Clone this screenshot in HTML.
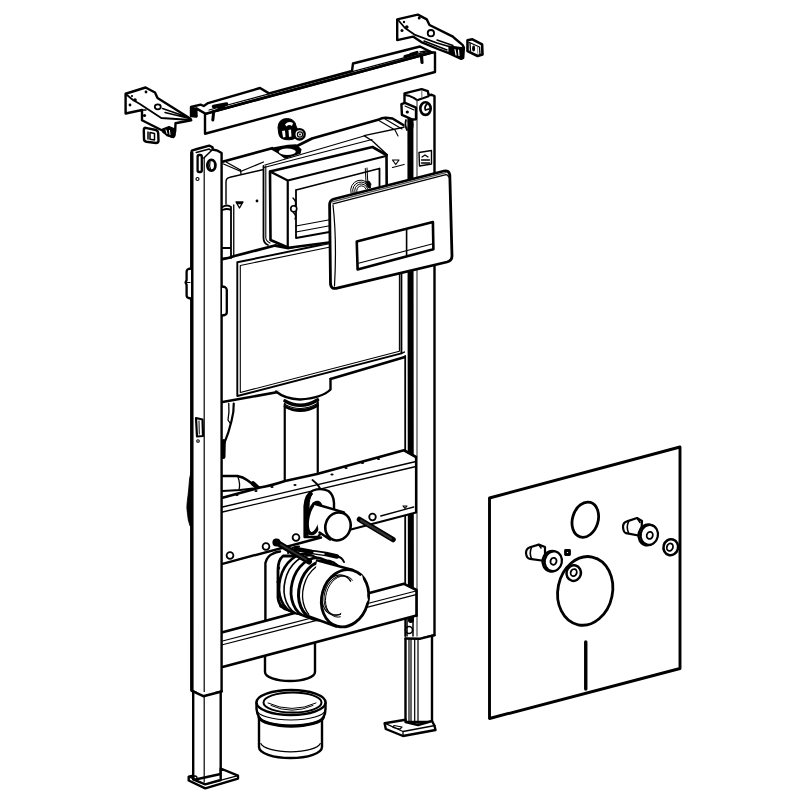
<!DOCTYPE html>
<html><head><meta charset="utf-8"><title>Installation frame</title>
<style>
html,body{margin:0;padding:0;background:#fff;width:800px;height:800px;overflow:hidden;font-family:"Liberation Sans",sans-serif;}
svg{display:block}
</style></head><body>
<svg width="800" height="800" viewBox="0 0 800 800">
<g fill="none" stroke="#000" stroke-linejoin="round" stroke-linecap="round">

<!-- ===== Cistern body ===== -->
<g id="cistern" stroke-width="2.2">
 <path fill="#fff" stroke="none" d="M222.5,160 L272,148 L312,139 L379,119.5 Q382,117.5 386,117.75 L392.5,118.5 L405,126 L405,356 L222.5,402 Z"/>
 <!-- top back edge -->
 <path stroke-width="2.6" d="M222.5,161.8 L272,148.2 M297,146 L312,138.5 L379,119.5 Q382,117.5 386,117.75 L392.5,118.5 L405,126"/>
 <!-- collar -->
 <path fill="#000" stroke-width="1.5" d="M271,148.5 L277,152 L285,158 L300,153 L300.75,149.5 L296,145 L288,145.5 Z"/>
 <ellipse cx="287.25" cy="151.75" rx="8.5" ry="3.2" fill="#fff" stroke="none"/>
 <!-- frame top front edge -->
 <path stroke-width="1.3" d="M223.5,164 L241,171.5 M226.5,162.3 L240.5,170 M240.5,171.5 L263.5,162 M240.5,170 L241,174"/>
 <path stroke-width="1.2" d="M265,165 L364,136 M264,167.5 L372,139.5"/>
 <path stroke-width="1.3" d="M364,135.6 L405,127 M364,135.6 L372.5,141 L387.5,155"/>
 <path stroke-width="1.1" d="M378,120 L395,130 L398,136 M385,119 L402,129"/>
 <!-- left compartment -->
 <path stroke-width="1.4" d="M226,204 L226,182 Q226,178 230,177.3 L262.6,169.8"/>
 <path stroke-width="1.8" d="M263.5,166 L263.5,238 Q263.5,243 268,245"/>
 <path stroke-width="1.1" d="M265.8,166 L265.8,238 Q266,241 270,243"/>
 <!-- overflow tube -->
 <path stroke-width="1.8" d="M222.5,207 Q227,204 231,207 L231,258 M222.5,210 Q227,208 231,210 M222.5,248 L231,248"/>
 <path stroke-width="1.3" d="M233.75,205 L233.75,256"/>
 <path stroke-width="1.3" d="M236,202 L243,202 L239.5,208 Z M237,203.5 L242,203.5"/>
 <circle cx="257" cy="201" r="1.4" fill="#000" stroke="none"/>
 <!-- shoulder thick line -->
 <path stroke-width="2.8" d="M222.5,259 Q228,258.5 234.5,256 L275,245.5 L288.5,248 L405,224"/>
 <!-- right section -->
 <path stroke-width="1.2" d="M392.5,160 L399,160 L395.75,164.5 Z M392.5,167.5 L406,164"/>
 <!-- front panel -->
 <path stroke-width="1.9" d="M237.3,262.3 L340,241 M237.3,262.3 L237.3,396 L401.4,353.4 L401.4,266"/>
 <path stroke-width="1.1" d="M240.3,265.5 L240.3,392.5 L399.4,351.3 L399.4,268 M240.3,265.5 L340,245"/>
 <!-- cistern bottom -->
 <path stroke-width="2.6" d="M222.5,402 L279.5,391.75 M330.5,379 L405,357"/>
 <path stroke-width="1.6" d="M401.4,353.4 Q404,352 408,351"/>
</g>

<!-- ===== Right post ===== -->
<g id="rpost" stroke-width="2.4">
 <path fill="#fff" d="M404.5,104 L404.5,93.4 L421.6,89.2 L427.8,91.2 L428.6,95.1 L431.7,94.8 L434.5,96 L434.5,635.2 L420.5,638.7 L405.5,638 Z" stroke="none"/>
 <path d="M404.5,104 L404.5,93.4 L421.6,89.2 L427.8,91.2 L428.6,95.1 L431.7,94.8 L434.5,96 L434.5,635.2 L420.5,638.7"/>
 <path stroke-width="2" d="M405,95 L408.7,95.7 L413.7,97.9 L417.1,100.2 L428.6,96.2"/>
 <path stroke="#777" stroke-width="1.2" d="M421.8,91 L421.8,97.5"/>
 <path stroke-width="6" d="M410.4,119 L410.9,620"/>
 <path stroke-width="1.8" d="M405.2,356 L405.2,636"/>
 <path stroke="#444" stroke-width="1.2" d="M417,100 L417,636"/>
 <ellipse cx="425.5" cy="108.6" rx="5.2" ry="6.3" stroke-width="2.6"/>
 <path stroke-width="1.8" d="M427,104 Q424,107 425.5,110 L429,109"/>
 <path fill="#fff" stroke-width="2.4" d="M401.4,104.1 L405,102.8 L416,107.6 L416,119.3 L412.5,119.5 L401.9,114.8 Z"/>
 <path stroke-width="1.2" d="M405,106 L414,110"/>
 <circle cx="407.3" cy="112" r="1.6" fill="#000" stroke="none"/>
 <path stroke-width="1.8" d="M406,120 Q404.5,125 407,130 M411.5,120 Q414,125 411.5,130 M408.5,121 Q410,124 408.5,128"/>
 <path stroke-width="1.4" d="M419,152.5 L431.5,150.5 L431.5,164 L419.5,166 Z"/>
 <path stroke-width="1.3" d="M421.5,160 L429.5,160 M422,157 L425,155 L428,157 M421.5,163 L429.5,163"/>
 <!-- clip near crossbar -->
 <circle cx="409" cy="630" r="3.5" stroke-width="1.6" fill="#fff"/>
 <path stroke-width="1.5" d="M407,618 L407,636 M413,618 L413,636"/>
 <!-- lower leg -->
 <path fill="#fff" d="M405.5,638.7 L405.5,722 L432,722 L432,636"/>
 <path stroke-width="1.2" d="M409,639 L409,722 M411,639 L411,722 M414.7,639 L414.7,724 M418,639 L418,725"/>
 <path stroke-width="2.4" d="M405.5,638.5 L420.5,638.7 L434.5,635.2"/>
 <path fill="#fff" d="M384.6,723.2 L405.5,719.7 L405.5,722 L418,725 L432,721 L434.4,725.5 L435.5,730 L403,736 L385.8,729 Z"/>
 <path stroke-width="1.3" d="M384.6,723.2 L403,731.5 L435,725.5 M403,731.5 L403,736"/>
 <path stroke-width="1.2" d="M394,725.5 L402,727 L400,729 L393,727.5 Z"/>
</g>

<!-- ===== Vertical pipe ===== -->
<g id="pipe" stroke-width="2.2">
 <path fill="#fff" stroke="none" d="M276,391 L284.75,400 L284.75,480 L317.75,476 L317.75,400 L330.5,389 L330.5,379 Z"/>
 <path stroke-width="2.4" d="M276,391.5 Q285,399 300,399.5 Q322,398 330.5,389.5 L330.5,379"/>
 <path stroke-width="2.2" d="M284.75,404 L284.75,480.5 M317.75,402 L317.75,474.5"/>
 <path stroke-width="3.6" d="M285,401 Q301,410 317.5,400"/>
 <path stroke-width="1.2" d="M285,404.5 Q301,413 317.5,403.5"/>
 <path stroke-width="2.8" d="M285,406.5 Q301,415 317.5,405.5"/>
</g>

<!-- cables on left -->
<g id="cables" stroke-width="2.2">
 <path d="M233.75,403.5 Q234,412 231.5,421 Q229,432 224,444 L222.5,450"/>
 <path stroke-width="1.3" d="M228.75,403.5 Q229.5,412 228,420 L230,423"/>
 <path stroke-width="4" d="M223.8,441 L223.5,457"/>
 <path stroke-width="2.4" d="M222.5,476 L237.5,476 Q243,477 247,480 L256,486.5"/>
 <path stroke-width="2.2" d="M222.5,491 L240,490 L253,488.5"/>
 <path stroke-width="1.3" d="M238,477 Q240.5,484 239,490"/>
 <path stroke-width="4.5" d="M253,483.5 L259,489"/>
</g>

<!-- ===== Middle crossbar ===== -->
<g id="midbar" stroke-width="2.2">
 <path fill="#fff" stroke="none" d="M222.5,497.75 L404,450.25 L416,457 L416,512.5 L222.5,563.8 Z"/>
 <path stroke-width="2.6" d="M222.5,497.75 L260,487.5 Q270,486 285,481 L317,474 L404,450.25 L416,457"/>
 <path stroke-width="1.3" d="M222.5,507 L416,461.5 M222.5,512 L416,466.5"/>
 <path stroke-width="2.2" d="M416,457 L416,512.5 L349,530"/>
 <path stroke-width="1.3" d="M380.75,516 L413.75,507"/>
 <path stroke-width="1.2" d="M403,506 L407,506 L405,508.5 Z"/>
 <g fill="#000" stroke="none">
  <ellipse cx="237" cy="495" rx="1.6" ry="1"/><ellipse cx="256" cy="491" rx="1.6" ry="1"/>
  <ellipse cx="272" cy="487" rx="1.6" ry="1"/><ellipse cx="295" cy="485" rx="1.6" ry="1"/>
  <ellipse cx="332" cy="474.5" rx="1.6" ry="1"/><ellipse cx="346" cy="468" rx="1.6" ry="1"/>
  <ellipse cx="362.5" cy="463" rx="1.6" ry="1"/><ellipse cx="378.5" cy="459" rx="1.6" ry="1"/>
 </g>
 <path stroke-width="2.4" d="M222.5,563.8 L321,537.5"/>
 <circle cx="230" cy="555.5" r="3.4" stroke-width="1.8" fill="#fff"/>
 <circle cx="266" cy="546.5" r="3.4" stroke-width="1.8" fill="#fff"/>
 <circle cx="296" cy="537.5" r="3.4" stroke-width="1.8" fill="#fff"/>
</g>

<!-- ===== Inlet pipe ===== -->
<g id="inlet" stroke-width="2.2">
 <path stroke-width="2" d="M312.5,480 Q318,484 320.4,489"/>
 <path fill="#fff" stroke-width="2.4" d="M304.6,537 L304.6,506 Q305.5,494 313,490.5 Q321,487.5 328.5,491 Q333.5,494.5 334,503 L334,515 L318,537 Z"/>
 <path fill="#000" stroke-width="1" d="M304.6,537 L304.6,506 Q305.5,495 311,491.5 L312.5,494 Q309,498 309,507 L309.5,534 Z"/>
 <ellipse cx="314.5" cy="518" rx="6.5" ry="16" fill="#fff" stroke-width="3.2" transform="rotate(12 314.5 518)"/>
 <path fill="#fff" stroke="none" d="M314,504 L344,512.4 L330,539.5 L319,533 Z"/>
 <path stroke-width="2.4" d="M313.5,503.5 L344,512.4 M319.5,532.5 L330,539.5"/>
 <ellipse cx="338" cy="526.4" rx="12.5" ry="14.2" fill="#fff" stroke-width="2.6" transform="rotate(20 338 526.4)"/>
</g>

<!-- upper rod -->
<g id="rod1">
 <path stroke-width="5.5" d="M359.5,519.5 L393,539.5"/>
 <path stroke="#333" stroke-width="2.2" d="M361,520.5 L391,538.5"/>
 <circle cx="372.5" cy="517" r="3.3" stroke-width="1.8" fill="#fff"/>
</g>

<!-- ===== Stub pipe (below lower bar) ===== -->
<g id="stub" stroke-width="2.4">
 <path fill="#fff" d="M265,650 L265,672 A25,9 0 0 0 315,672 L315,640"/>
</g>

<!-- ===== Elbow leg (behind lower bar) ===== -->
<g id="elbowleg" stroke-width="2.4">
 <path fill="#fff" stroke="none" d="M265.4,630 L265.4,563 Q267,555 273,553.6 L285,550 L300,560 L300,630 Z"/>
 <path d="M265.4,630 L265.4,563 Q267,556 273,553.6 Q276,552 280,551.5"/>
</g>

<!-- ===== Lower crossbar ===== -->
<g id="lowbar" stroke-width="2.2">
 <path fill="#fff" stroke="none" d="M222.5,632.3 L404,583.8 L416.5,590 L416.5,615.5 L222.5,667 Z"/>
 <path stroke-width="2.6" d="M222.5,632.3 L404,583.8 L416.5,590 L416.5,615.5"/>
 <path stroke-width="1.1" d="M222.5,641 L416,591 M222.5,644.8 L416,594.6"/>
 <path stroke-width="2.6" d="M222.5,667 L416.5,615.5"/>
</g>

<!-- ===== Elbow front ===== -->
<g id="elbow" stroke-width="2.2">
 <!-- clamp outline -->
 <path fill="#fff" stroke-width="2.8" d="M283,556 Q278,560 278,570 L278,598 Q279,606 285,609 L300,614 L300,556 Z"/>
 <g fill="#000" stroke="none">
  <circle cx="278.5" cy="568" r="1.7"/><circle cx="278.2" cy="582" r="1.7"/><circle cx="278.5" cy="596" r="1.7"/><circle cx="281" cy="606" r="1.8"/>
 </g>
 <!-- rings -->
 <ellipse cx="301.6" cy="583.7" rx="22" ry="30" fill="#fff" stroke-width="2.6" transform="rotate(14 301.6 583.7)"/>
 <ellipse cx="306.6" cy="585.3" rx="22" ry="30" fill="#fff" stroke-width="1.6" transform="rotate(14 306.6 585.3)"/>
 <ellipse cx="313.6" cy="587.6" rx="22" ry="30" fill="#fff" stroke-width="2.8" transform="rotate(14 313.6 587.6)"/>
 <ellipse cx="321.6" cy="590.3" rx="22.5" ry="30" fill="#fff" stroke-width="3" transform="rotate(15 321.6 590.3)"/>
 <ellipse cx="325.6" cy="591.6" rx="22.5" ry="29.5" fill="#fff" stroke-width="1.3" transform="rotate(15 325.6 591.6)"/>
 <!-- cylinder -->
 <path fill="#fff" stroke="none" d="M317,560.4 L352.8,570 L336.3,626.5 L309,617 Z"/>
 <path stroke-width="2.4" d="M317,560.4 L352.8,570 M309,616.5 L336.3,626.5"/>
 <!-- opening -->
 <ellipse cx="345" cy="598.25" rx="23.2" ry="29" fill="#fff" stroke-width="2.8" transform="rotate(16 345 598.25)"/>
 <ellipse cx="337.5" cy="595" rx="15" ry="20.5" stroke-width="1.1" transform="rotate(16 337.5 595)"/>
 <ellipse cx="339" cy="595.5" rx="14.5" ry="20" stroke-width="1" transform="rotate(16 339 595.5)"/>
 <ellipse cx="341" cy="596.5" rx="15" ry="21" stroke-width="0.9" transform="rotate(16 341 596.5)"/>
 <path fill="#fff" stroke="none" d="M345,585 L362,575 L368,600 L355,620 L340,622 Z"/>
 <!-- clamp strap -->
 <path stroke-width="4.5" d="M296,549 L312,552 L326,554 L337,556.5"/>
 <path stroke="#fff" stroke-width="1.3" d="M314,552.5 L324,554"/>
 <path stroke-width="2" d="M288,553 Q292,546 299,546.5 M337,556.5 Q342,557 344,562"/>
 <!-- rod lower -->
 <path stroke-width="6" d="M276,542 L309,561.5"/>
 <path stroke="#333" stroke-width="2" d="M279,543.5 L306,559.5"/>
 <circle cx="276.5" cy="542.5" r="3" fill="#000"/>
</g>

<!-- ===== Left post ===== -->
<g id="lpost" stroke-width="2.4">
 <path fill="#fff" d="M191.75,150.7 L197,149 L209.2,145.6 L212.6,147.3 L212.6,149.5 L217.6,150.7 L221.6,153 L221.6,691.4 L203.3,696.2 L192,690.8 Z"/>
 <path stroke-width="3.4" d="M191.8,153 L191.8,690"/>
 <path stroke-width="1.2" d="M204.2,158 L204.2,695"/>
 <path stroke-width="1.5" d="M196.25,152.4 L209.2,149 L211,150.5 M203.8,158 L212.6,149.5"/>
 <ellipse cx="211.4" cy="165.3" rx="4" ry="5.4" stroke-width="2.8"/>
 <path stroke-width="1.2" d="M210,162 Q209,166 210.5,169"/>
 <rect x="197.6" y="155" width="4.2" height="17" rx="1.5" stroke-width="2.3"/>
 <circle cx="197.5" cy="179" r="1.5" stroke-width="1.2"/>
 <path fill="#fff" stroke-width="2.3" d="M191,268.5 L188.5,269 Q186.6,269.5 186.6,272 L186.6,280 L185.6,282.5 L186.6,285 L186.6,295 Q186.6,297.5 188.5,298 L191,298.5"/>
 <path stroke-width="1.1" d="M186.6,282.5 L190,282.5"/>
 <path fill="#fff" stroke-width="2.3" d="M222,286.5 L224.8,287 Q226.8,288 226.8,290 L226.8,312 Q226.8,314.5 224.8,315 L222,315.5"/>
 <!-- clip lower -->
 <path stroke-width="2.2" d="M196,418 L202.5,419.5 L203,436 L197,436.5 Z"/>
 <path stroke-width="1" d="M199,421 L199.3,434"/>
 <circle cx="198" cy="441" r="1.3" stroke-width="1.1"/>
 <path fill="#000" stroke-width="0.8" d="M191.5,470 Q189,478 188.8,488 Q188,496 187.2,502 Q186.4,508 187.5,514 Q187.8,520 190,526 L192,526 L192,470 Z"/>
 <!-- foot -->
 <path fill="#fff" d="M193.2,692 L193.2,780 L220.7,774 L220.7,692"/>
 <path stroke-width="1.2" d="M204.2,696 L204.2,782"/>
 <path fill="#fff" d="M188.7,776.6 L193.2,775.6 L193.2,779.5 L205.2,784.4 L220.7,780 L220.7,768.5 L238,775.7 L238,778.6 L205.2,788.3 L188.7,780.5 Z"/>
 <path stroke-width="1.3" d="M188.7,776.6 L205.2,784.4 L238,775.7"/>
 <circle cx="195" cy="778" r="2" stroke-width="1.3"/>
 <path stroke-width="2.6" d="M192,690.8 L203.3,696.2 L221.6,691.4"/>
</g>

<!-- ===== Actuator box ===== -->
<g id="abox" stroke-width="2.2">
 <path fill="#fff" d="M270,171.5 L372.5,147 L386,155 L387,238 L288.5,247.75 L270.5,240 Z" stroke="none"/>
 <path stroke-width="2.6" d="M270.5,240 L270,171.5 L372.5,147 L386.5,155 L387,240 M270.5,240 L288.5,247.75 L387,235"/>
 <path stroke-width="2.2" d="M270,171.5 L287.75,180.5 L386,156 M287.75,180.5 L287.75,247.75"/>
 <path stroke-width="1.8" d="M296,190 L296,238 L379.5,223 M296,190 L379.5,168.5 L379.5,223"/>
 <path stroke-width="1.2" d="M296,232 L379.5,216.5 M296,226 L379.5,210.5"/>
 <circle cx="293.75" cy="208.75" r="3" stroke-width="1.6" fill="#fff"/>
 <path stroke-width="1.4" d="M293,198 Q297,202 295,206 M293,212 Q297,216 295,219"/>
 <!-- cable coil inside -->
 <path stroke-width="1" d="M351,193 A10,10 0 0 1 370.5,187.5 M353,192.8 A8,8 0 0 1 369,188 M355,192.5 A6,6 0 0 1 367.5,188.5 M357,192.3 A4,4 0 0 1 366,189"/>
 <path stroke-width="1" d="M365.3,168.5 L366,182 M367,168 L367.8,182"/>
 <path fill="#000" stroke-width="0.8" d="M366,182 L369,181 L371,184 L370,188 L367.5,187 Z"/>
</g>

<!-- ===== Flush plate ===== -->
<g id="plate" stroke-width="2.8">
 <path fill="#fff" d="M334,199 Q329.6,200.2 329.6,204.5 L330.5,284 Q331,289 336,288.4 L447,262 Q452,260.5 452,256 L449.8,175 Q449,170 444,171 Z"/>
 <path stroke-width="1.2" d="M333,203.8 L446,174.6 Q448,174.6 448.5,177"/>
 <path stroke="#555" stroke-width="1.2" d="M332,201.8 L446,172.6"/>
 <path stroke-width="1.2" d="M333,205 Q337,240 334.5,286"/>
 <path stroke-width="2.6" d="M356.75,241.4 L432.9,222.1 L433.4,249.25 L357.6,269.4 Z"/>
 <path stroke-width="1.6" d="M406.6,229 L406.6,256.5"/>
 <path stroke-width="1.1" d="M358.5,263.25 L432,244"/>
</g>

<!-- ===== Top crossbar ===== -->
<g id="crossbar" stroke-width="2.4">
 <path fill="#fff" d="M205,113.75 L432,52.5 L435,52.5 L435,72 L205,133.75 Z"/>
 <path fill="#fff" d="M191,107 L200.6,104.7 L203.75,106 L208.1,103.1 L260,88 L269,93.4 L352,71 L353,63.5 L420,46.5 L431,52 L432,52.5 L205.6,113.75 L196.25,108.4 L196.5,116.5 L191,116 Z"/>
 <path fill="#000" stroke-width="1" d="M191,107 L196.3,108.4 L196.8,116.8 L191,116.3 Z"/>
 <path stroke-width="1.2" d="M209,110 L430,50.8 M212,111 L430,52.3"/>
 <path stroke-width="1.6" d="M196.25,108.4 L205.6,113.75"/>
 <!-- end details -->
 <path stroke-width="3.6" d="M213.5,106.5 L226.5,104 M219,108 L224,107"/>
 <path stroke-width="3" d="M213.5,113.5 L212.8,120"/>
 <path stroke-width="3.2" d="M405,56.5 L414,54 M410.5,54.5 L417,52.5 M421.5,56 L422,62.5"/>
 <path stroke-width="1.5" d="M420,52 L426,51"/>
</g>

<!-- ===== Valve nipple ===== -->
<g id="nipple">
 <path fill="#000" d="M278,127 Q278.5,118.5 287.5,118.5 Q295,119 296,126 L298.5,131 Q297.5,140 289,139.8 Q279.5,140 278.8,134 Z"/>
 <path fill="#fff" stroke="none" d="M285,124.5 Q288.5,120.5 293,123 L292,126 Q289,124 286.5,126.5 Z"/>
 <path fill="#fff" stroke="none" d="M282,131 L285,130.5 L285.5,137 L283,137.5 Z M288.5,130 L291,129.5 L291.5,136.5 L289,137 Z"/>
 <circle cx="299.5" cy="134.3" r="5.2" fill="#fff" stroke-width="2.4"/>
 <circle cx="300" cy="134.5" r="2.6" stroke-width="1.2"/>
 <circle cx="300" cy="134.5" r="0.9" fill="#000" stroke="none"/>
</g>

<!-- ===== Left bracket ===== -->
<g id="lbracket" stroke-width="2.4">
 <path fill="#fff" d="M125.6,93.75 L145.6,87.5 L155,92.5 L157.5,98 L190.5,118.75 L191.25,120.25 L175.5,123.25 L175.2,131 L173.5,137 L167,135 L162.75,130.75 L142,120.25 L142,110 L125.6,113.5 Z"/>
 <path stroke-width="1.8" d="M127,95 L133,100 L139.5,103.75 L161.25,118 L191,120"/>
 <path stroke-width="1.5" d="M162.5,108.5 L185,116.3 M165,112.5 L188.5,118.3"/>
 <path stroke-width="1.4" d="M142,110 L146,110"/>
 <ellipse cx="157.8" cy="106.8" rx="3" ry="2.5" stroke-width="1.8"/>
 <g fill="#000" stroke="none">
  <circle cx="130" cy="105" r="1.4"/><circle cx="146" cy="92" r="1.4"/><circle cx="135" cy="100" r="1.8"/><circle cx="144.5" cy="115.5" r="1.6"/><circle cx="132" cy="96" r="1.1"/>
 </g>
 <path fill="#000" stroke-width="1.2" d="M162.5,129 L169,126.5 L175.2,129 L175,136 L172,137.5 L163,132.5 Z"/>
 <path stroke="#fff" stroke-width="1" d="M166,130 L167,133.5 M169.5,130.5 L170,134.5"/>
 <path fill="#fff" stroke-width="2.4" d="M145.5,127.8 L156,130 Q158,130.6 158.2,133 L158.5,141 Q158.2,143 156,143 L146.5,141.8 Q144,141.3 144,139 L143.8,130 Q144,127.8 145.5,127.8 Z"/>
 <path stroke-width="1.5" d="M148,132 L148,139 M150,132.5 L154.5,133.5 L154.5,140 L150,139.2 Z"/>
</g>

<!-- ===== Right bracket ===== -->
<g id="rbracket" stroke-width="2.4">
 <path fill="#fff" d="M397.2,19.4 L417.8,14.6 L426.8,19.4 L429.5,25 L452.9,36.6 L454.3,38 L462.5,44.9 L463.9,47.6 L463.2,58 L461.2,58.9 L448.8,53.1 L437.8,49 L421.3,42.1 L413,36.6 L397.2,40.1 Z"/>
 <path stroke-width="1.8" d="M398.6,20.5 L405,28 L414.4,34.6 L437,43 L449,46.5"/>
 <path stroke-width="1.4" d="M424,41 L447,50 M437,40 L453,45.5"/>
 <circle cx="430.9" cy="33.2" r="3.2" stroke-width="1.8"/>
 <g fill="#000" stroke="none">
  <circle cx="402" cy="30.4" r="1.5"/><circle cx="406.8" cy="27" r="1.8"/><circle cx="419.2" cy="18" r="1.5"/><circle cx="404" cy="22" r="1.2"/>
 </g>
 <path fill="#000" stroke-width="1.2" d="M449,46 L463.5,47.8 L463.2,58 L461.2,58.9 L449,53 Z"/>
 <path stroke="#fff" stroke-width="1.2" d="M455,49.5 L456,55 M458.5,50 L459,55.5"/>
 <path fill="#fff" stroke-width="2.6" d="M467.5,40.25 L472.4,39.3 L482.1,44.4 L482.5,54.5 L477.6,56 L467.5,51.1 Z"/>
 <path stroke-width="1.3" d="M469.5,42.5 L479.5,47 L480,54.5 M470,43 L470.5,51"/>
 <ellipse cx="473.6" cy="48.5" rx="1.5" ry="3" fill="#000" stroke="none"/>
 <path stroke="#888" stroke-width="1" d="M477.5,47.5 L477.8,53.5"/>
</g>

<!-- ===== Separate socket ===== -->
<g id="socket" stroke-width="2.4">
 <path fill="#fff" d="M259,716 L259,747 A31.5,11 0 0 0 322,747 L322,716 Z"/>
 <path stroke-width="1.2" d="M260.8,743.5 A30,9.5 0 0 0 320.3,743.5"/>
 <path fill="#fff" d="M256.5,702.5 L256.5,709 Q257,714 259,717 A32.5,10 0 0 0 323.5,717 Q325.5,714 325.5,709 L325.5,702.5 Z"/>
 <path stroke-width="2.8" d="M259,717.5 A32.5,10 0 0 0 323.5,717.5"/>
 <path stroke-width="1.1" d="M257,710 A34,10 0 0 0 325,710"/>
 <ellipse cx="291" cy="702.5" rx="34.5" ry="12.5" fill="#fff" stroke-width="2.4"/>
 <ellipse cx="292.5" cy="702.5" rx="29" ry="10" stroke-width="2"/>
 <path stroke-width="1" d="M268,703 Q292,714 316,703 M271,705.5 Q292,715 313,705.5"/>
</g>

<!-- ===== Sound insulation plate ===== -->
<g id="sound" stroke-width="2.9">
 <path fill="#fff" d="M489.5,498 L680,447 L680,668.5 L489.5,718.5 Z"/>
 <ellipse cx="585.3" cy="519.7" rx="12.8" ry="18" stroke-width="2.8" transform="rotate(16.7 585.3 519.7)"/>
 <ellipse cx="585.2" cy="590.9" rx="27.3" ry="34.6" stroke-width="2.8" transform="rotate(11.7 585.2 590.9)"/>
 <ellipse cx="573.7" cy="573.1" rx="7.2" ry="7.8" fill="#fff" stroke-width="2.5" transform="rotate(15 573.7 573.1)"/>
 <ellipse cx="573.7" cy="572.6" rx="3" ry="3.6" stroke-width="1.8" transform="rotate(20 573.7 572.6)"/>
 <ellipse cx="670.8" cy="547.2" rx="7.3" ry="8" fill="#fff" stroke-width="2.5" transform="rotate(15 670.8 547.2)"/>
 <ellipse cx="669.9" cy="547.2" rx="3" ry="3.8" stroke-width="1.8" transform="rotate(20 669.9 547.2)"/>
 <!-- left bolt -->
 <path fill="#fff" stroke-width="2.2" d="M545,547 L538.75,544.6 L530,547.2 Q526,548.5 526,553 Q526.5,558.5 530,558.8 L545,561 Z"/>
 <path stroke-width="1.6" d="M531.5,547.5 Q529,553 531.5,558.5 M538.75,544.6 L541,548"/>
 <ellipse cx="551.8" cy="561.2" rx="9.2" ry="10.3" fill="#fff" stroke-width="2.5" transform="rotate(12 551.8 561.2)"/>
 <ellipse cx="553.3" cy="561.2" rx="8.6" ry="9.9" fill="#fff" stroke-width="2.2" transform="rotate(12 553.3 561.2)"/>
 <ellipse cx="553.5" cy="561.3" rx="3" ry="3.5" stroke-width="1.8" transform="rotate(15 553.5 561.3)"/>
 <rect x="565.5" y="550.5" width="4" height="4" stroke-width="2.8" fill="#fff"/>
 <!-- right bolt -->
 <path fill="#fff" stroke-width="2.2" d="M642,521 L637,518 L627,521.4 Q623,522.5 623,527 Q623.5,532.5 626,533.2 L641,536 Z"/>
 <path stroke-width="1.6" d="M628.5,521.8 Q626,527 628.5,532.8 M637,518 L640,522.5"/>
 <ellipse cx="647.8" cy="534.9" rx="9.2" ry="10.5" fill="#fff" stroke-width="2.5" transform="rotate(12 647.8 534.9)"/>
 <ellipse cx="649.3" cy="534.9" rx="8.6" ry="10" fill="#fff" stroke-width="2.2" transform="rotate(12 649.3 534.9)"/>
 <ellipse cx="649.75" cy="535.4" rx="3" ry="3.6" stroke-width="1.8" transform="rotate(15 649.75 535.4)"/>
 <path stroke-width="3.4" d="M585.75,642 L585.75,689"/>
</g>

</g>
</svg>
</body></html>
